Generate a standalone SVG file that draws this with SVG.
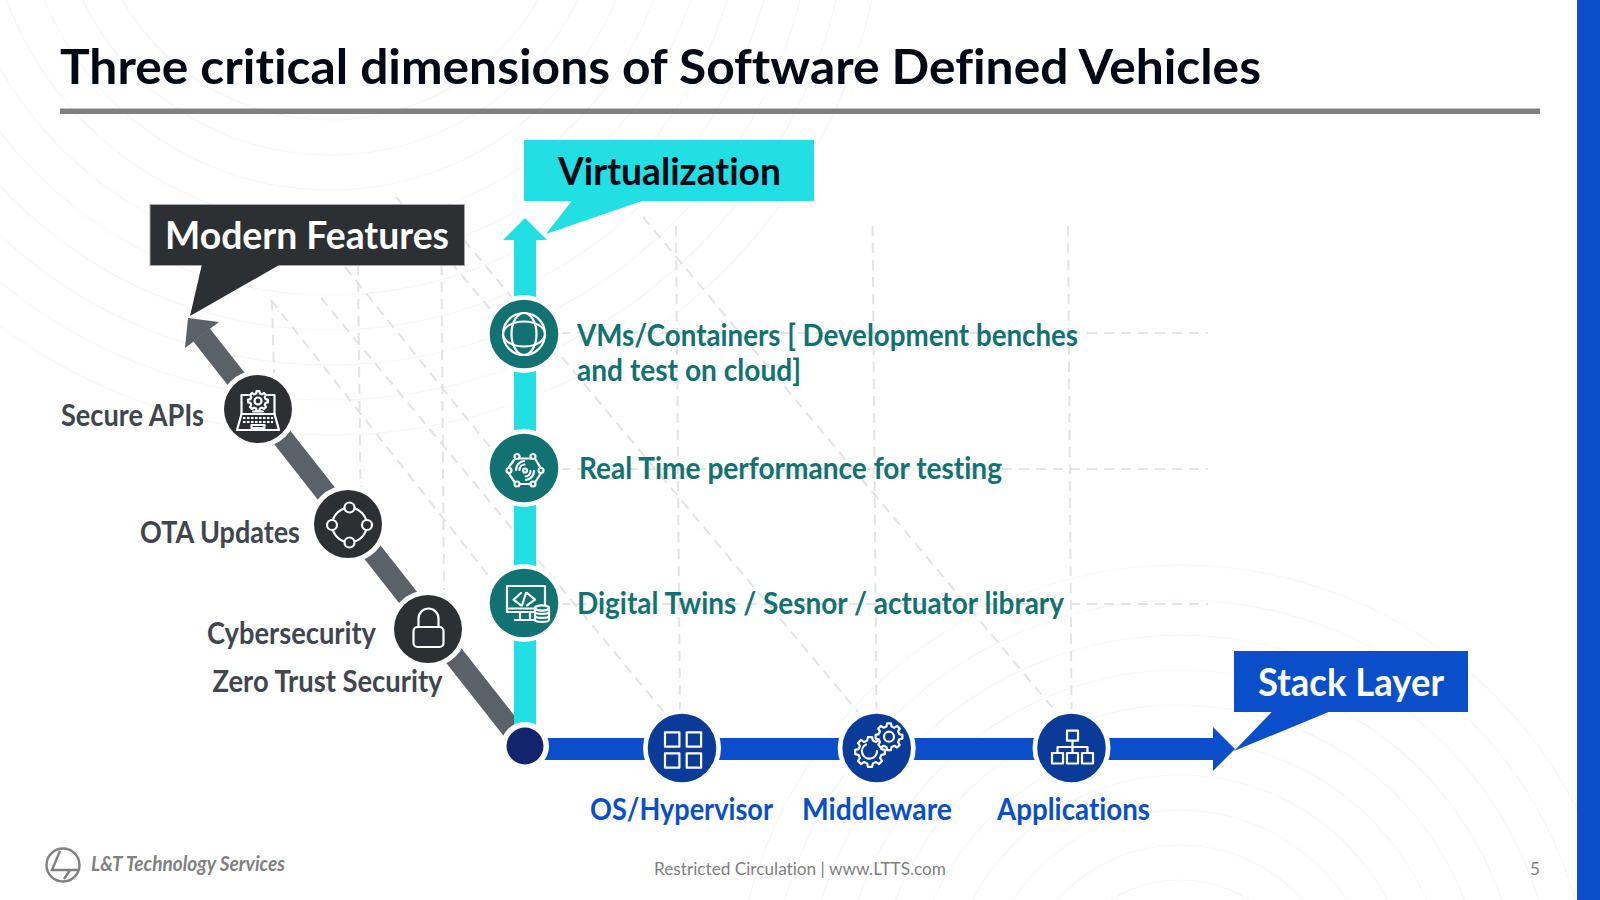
<svg xmlns="http://www.w3.org/2000/svg" width="1600" height="900" viewBox="0 0 1600 900">
<style>
text{font-family:Lato,"Open Sans","Liberation Sans",sans-serif;font-weight:700;font-variant-ligatures:none}
.bgl{fill:none;stroke:#f6f6f6;stroke-width:1.2}
.dsh{fill:none;stroke:#e3e3e3;stroke-width:2;stroke-dasharray:10 7}
.ring{fill:#fff}
.dark{fill:#2d3033}.teal{fill:#127272}.navy{fill:#0a3b99}
.ic{fill:none;stroke:#fff;stroke-width:2.2;stroke-linecap:round;stroke-linejoin:round}
.nsc{vector-effect:non-scaling-stroke}
.lab{font-size:30px;fill:#3f464d}
.tl{font-size:30px;fill:#127272}
.bl{font-size:30px;fill:#0a4fc9}
.call{font-size:38px}
</style>
<defs>
<polygon id="gear" class="nsc" points="76,-19 99,-14 99,14 76,19 67,40 80,60 60,80 40,67 19,76 14,99 -14,99 -19,76 -40,67 -60,80 -80,60 -67,40 -76,19 -99,14 -99,-14 -76,-19 -67,-40 -80,-60 -60,-80 -40,-67 -19,-76 -14,-99 14,-99 19,-76 40,-67 60,-80 80,-60 67,-40"/>
</defs>
<rect width="1600" height="900" fill="#fff"/>
<g id="background">
<g class="bgl">
<circle cx="330" cy="-120" r="240"/><circle cx="330" cy="-120" r="275"/><circle cx="330" cy="-120" r="310"/><circle cx="330" cy="-120" r="345"/><circle cx="330" cy="-120" r="380"/><circle cx="330" cy="-120" r="415"/><circle cx="330" cy="-120" r="450"/><circle cx="330" cy="-120" r="485"/><circle cx="330" cy="-120" r="520"/><circle cx="330" cy="-120" r="555"/>
<circle cx="1180" cy="1010" r="130"/><circle cx="1180" cy="1010" r="165"/><circle cx="1180" cy="1010" r="200"/><circle cx="1180" cy="1010" r="235"/><circle cx="1180" cy="1010" r="270"/><circle cx="1180" cy="1010" r="305"/><circle cx="1180" cy="1010" r="340"/><circle cx="1180" cy="1010" r="375"/><circle cx="1180" cy="1010" r="410"/><circle cx="1180" cy="1010" r="445"/>
</g>
<rect x="1577" width="23" height="900" fill="#0a4fc9"/>
</g>
<text x="60" y="84" font-size="47" fill="#000814" textLength="1201" lengthAdjust="spacingAndGlyphs">Three critical dimensions of Software Defined Vehicles</text>
<rect x="60" y="108.5" width="1480" height="5.5" fill="#7f7f7f"/>
<g id="guides">
<path class="dsh" d="M676 226L680 714M872.6 226L876.5 714M1068 226L1071.6 714M441.5 265L444 590M358 265L360.5 487M272 301L274 373"/>
<path class="dsh" d="M643 217L1056 712M464 240L858 712M396 197L512 335M345 267L526 492M271 300L510 603M321 298L664 712"/>
<path class="dsh" d="M560 333H1208M560 469H1208M560 604H1208"/>
</g>
<g id="connectors">
<path d="M201.6 335L525 746" stroke="#5a6168" stroke-width="21" fill="none"/>
<polygon points="188,318 219,322 211,328 193,342 185,348" fill="#5a6168"/>
<rect x="514" y="238" width="22" height="508" fill="#22dfe4"/>
<polygon points="525,218 547,240 503,240" fill="#22dfe4"/>
<rect x="540" y="738" width="680" height="22" fill="#0a4fc9"/>
<polygon points="1213,727 1235,749 1213,771" fill="#0a4fc9"/>
</g>
<g id="callout-modern"><rect x="150" y="204.500" width="314.500" height="61" fill="#2d3033" stroke="#a8a8a8"/><polygon points="202,264 281,264 190,316" fill="#2d3033"/><text class="call" x="165" y="249" fill="#fff" textLength="284" lengthAdjust="spacingAndGlyphs">Modern Features</text></g>
<g id="callout-virtualization"><rect x="524" y="140" width="290" height="61" fill="#22dfe4"/><polygon points="572.500,200 645,200 546,234" fill="#22dfe4"/><text class="call" x="558" y="185" fill="#000814" textLength="223" lengthAdjust="spacingAndGlyphs">Virtualization</text></g>
<g id="callout-stack"><rect x="1234" y="651" width="234" height="61" fill="#0a4fc9"/><polygon points="1272.700,711 1331,711 1234,751" fill="#0a4fc9"/><text class="call" x="1258" y="696" fill="#fff" textLength="186" lengthAdjust="spacingAndGlyphs">Stack Layer</text></g>
<g id="node-secure-apis"><circle class="ring" cx="258" cy="409" r="39"/><circle class="dark" cx="258" cy="409" r="34"/>
<g class="ic" stroke-width="1.800"><path d="M248 395H241.500V414H274.500V395H268"/><path d="M241.500 414L237 430H279L274.500 414Z"/><use href="#gear" transform="translate(258 401) scale(.1)"/><circle cx="258" cy="401" r="3.500"/><path d="M253 411.500H263"/><path d="M243 418H273M243 422H273" stroke-dasharray="2.500 1.500" stroke-linecap="butt"/><rect x="251.500" y="425" width="13" height="3"/></g>
<text class="lab" x="61" y="426" textLength="143" lengthAdjust="spacingAndGlyphs">Secure APIs</text></g>
<g id="node-ota"><circle class="ring" cx="348" cy="524" r="39"/><circle class="dark" cx="348" cy="524" r="34"/>
<g class="ic"><circle cx="349.500" cy="525" r="17.300"/><g fill="#2d3033"><circle cx="349.500" cy="507.500" r="5"/><circle cx="367" cy="525" r="5"/><circle cx="349.500" cy="542.500" r="5"/><circle cx="332" cy="525" r="5"/></g></g>
<text class="lab" x="140" y="542.500" textLength="160" lengthAdjust="spacingAndGlyphs">OTA Updates</text></g>
<g id="node-cyber"><circle class="ring" cx="428" cy="629" r="39"/><circle class="dark" cx="428" cy="629" r="34"/>
<g class="ic" stroke-width="3.600"><rect x="413.500" y="627" width="30" height="20" rx="4"/><path d="M418.500 627V618.500a10 10 0 0 1 20 0V627"/></g>
<text class="lab" x="207" y="644" textLength="169" lengthAdjust="spacingAndGlyphs">Cybersecurity</text>
<text class="lab" x="212.500" y="691.500" textLength="230" lengthAdjust="spacingAndGlyphs">Zero Trust Security</text></g>
<g id="node-origin"><circle class="ring" cx="525" cy="746" r="24"/><circle cx="525" cy="746" r="18.500" fill="#12246b"/></g>
<g id="node-vms"><circle class="ring" cx="524" cy="334" r="39"/><circle class="teal" cx="524" cy="334" r="34.300"/>
<g class="ic"><circle cx="524" cy="334" r="21"/><ellipse cx="524" cy="334" rx="12.500" ry="21"/><ellipse cx="524" cy="334" rx="21" ry="12.500"/></g>
<text class="tl" x="577" y="346" textLength="501" lengthAdjust="spacingAndGlyphs">VMs/Containers [ Development benches</text>
<text class="tl" x="577" y="381" textLength="224" lengthAdjust="spacingAndGlyphs">and test on cloud]</text></g>
<g id="node-realtime"><circle class="ring" cx="524" cy="468" r="39"/><circle class="teal" cx="524" cy="468" r="34.300"/>
<g class="ic" stroke-width="1.500"><path d="M520 458.500H530M536 460L540 467M541 473L536 481M531 484H520M514 481L509 474M509 467L514 460"/><circle cx="517" cy="456.500" r="2.500"/><circle cx="533" cy="456.500" r="2.500"/><circle cx="541" cy="470.500" r="2.500"/><circle cx="533" cy="484" r="2.500"/><circle cx="517" cy="484" r="2.500"/><circle cx="509" cy="470.500" r="2.500"/><circle cx="525" cy="470.500" r="2"/><path d="M519.500 470a5.500 5.500 0 0 1 5-5.500M530.500 471a5.500 5.500 0 0 1-5 5.500M516 470a9 9 0 0 1 8-9M534 471a9 9 0 0 1-8 9"/></g>
<text class="tl" x="579" y="479" textLength="423" lengthAdjust="spacingAndGlyphs">Real Time performance for testing</text></g>
<g id="node-twins"><circle class="ring" cx="524" cy="603" r="39"/><circle class="teal" cx="524" cy="603" r="34.300"/>
<g class="ic" stroke-width="1.800"><rect x="507" y="586" width="38" height="26"/><path d="M507 608.500H545M520 612V619M530 612V619M515 620H536M521 593L513.500 599.700L521 605.300M527 593L535 599.700L527 605.300M526 593L522 605.300"/><path d="M535 608V620c0 2.500 14 2.500 14 0V608Z" fill="#127272"/><ellipse cx="542" cy="608" rx="7" ry="2.600" fill="#127272"/><path d="M535 612c0 2.500 14 2.500 14 0M535 616c0 2.500 14 2.500 14 0"/></g>
<text class="tl" x="577" y="614" textLength="487" lengthAdjust="spacingAndGlyphs">Digital Twins / Sesnor / actuator library</text></g>
<g id="node-os"><circle class="ring" cx="682" cy="748" r="39"/><circle class="navy" cx="682" cy="748" r="34.300"/>
<g class="ic" stroke-linejoin="miter"><rect x="665" y="732.300" width="14.400" height="14.400"/><rect x="686.700" y="732.300" width="14.400" height="14.400"/><rect x="665" y="753.300" width="14.400" height="14.400"/><rect x="686.700" y="753.300" width="14.400" height="14.400"/></g>
<text class="bl" x="590" y="820" textLength="183" lengthAdjust="spacingAndGlyphs">OS/Hypervisor</text></g>
<g id="node-middleware"><circle class="ring" cx="876.700" cy="748" r="39"/><circle class="navy" cx="876.700" cy="748" r="34.300"/>
<g class="ic"><use href="#gear" transform="translate(870 752) scale(.15)"/><path d="M866 744.500a7.500 7.500 0 1 0 11 6.500"/><use href="#gear" transform="translate(889 736.700) scale(.135)" fill="#0a3b99"/><circle cx="889" cy="736.700" r="5"/></g>
<text class="bl" x="802" y="820" textLength="150" lengthAdjust="spacingAndGlyphs">Middleware</text></g>
<g id="node-applications"><circle class="ring" cx="1071.500" cy="748" r="39"/><circle class="navy" cx="1071.500" cy="748" r="34.300"/>
<g class="ic" stroke-linejoin="miter"><rect x="1067" y="730.700" width="11" height="10"/><rect x="1052" y="753" width="11" height="10.500"/><rect x="1067" y="753" width="11" height="10.500"/><rect x="1082" y="753" width="11" height="10.500"/><path d="M1072.500 741V753M1057.500 753V747H1087.500V753"/></g>
<text class="bl" x="997" y="820" textLength="153" lengthAdjust="spacingAndGlyphs">Applications</text></g>
<g id="footer">
<g fill="none" stroke="#808080" stroke-width="2.400"><circle cx="63" cy="865" r="16.500"/><path d="M60 851L52 870H68M62 870H78M70 870L64 879"/></g>
<text x="91" y="871" font-size="20" font-style="italic" fill="#808080" textLength="194" lengthAdjust="spacingAndGlyphs">L&amp;T Technology Services</text>
<text x="654" y="874.500" font-size="17" fill="#7f7f7f" style="font-weight:400" textLength="292" lengthAdjust="spacingAndGlyphs">Restricted Circulation | www.LTTS.com</text>
<text x="1530" y="874.500" font-size="17" fill="#7f7f7f" style="font-weight:400">5</text>
</g>
</svg>
